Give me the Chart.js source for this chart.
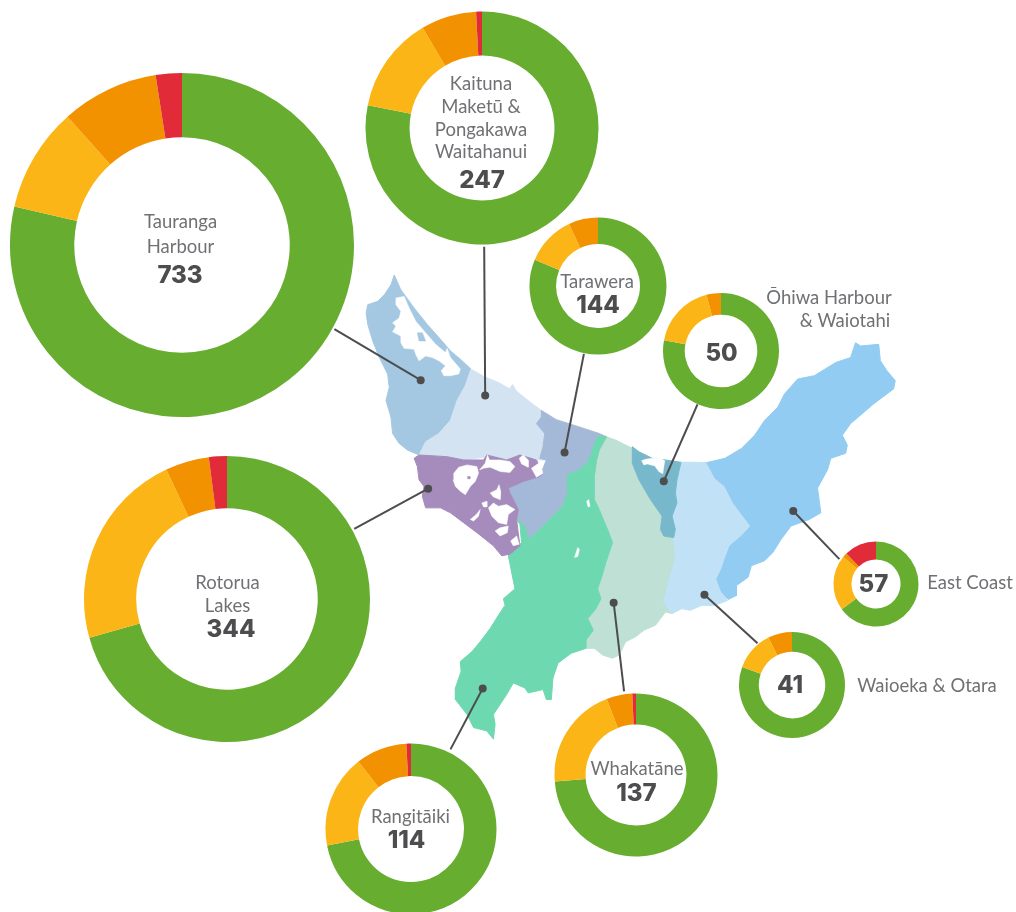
<!DOCTYPE html>
<html>
<head>
<meta charset="utf-8">
<script src="https://cdn.jsdelivr.net/npm/chart.js@4"></script>
<style>
html,body{margin:0;padding:0;background:#fff;width:1016px;height:912px;overflow:hidden}
#stage{position:relative;width:1016px;height:912px;overflow:hidden}
canvas{position:absolute;display:block}
.t{position:absolute;transform:translate(-50%,-50%);white-space:nowrap;line-height:1}
.l{font-family:Lato,sans-serif;font-weight:400;font-size:18.5px;color:#707174}
.n{font-family:Inter,sans-serif;font-weight:800;font-size:24px;color:#4d4d4f}
</style>
</head>
<body>
<div id="stage"><canvas id="map" width="1016" height="912" style="left:0;top:0"></canvas></div>
<script>
// ---- data: sites in each catchment by rating ----
const catchments = ["Tauranga Harbour","Kaituna Maketū & Pongakawa Waitahanui","Tarawera","Ōhiwa Harbour & Waiotahi","Rotorua Lakes","Rangitāiki","Whakatāne","East Coast","Waioeka & Otara"];
const totals = [733,247,144,50,344,114,137,57,41];
const green  = [576,193,117,39,243,82,101,37,33];
const yellow = [72,33,17,9,77,20,28,12,5];
const orange = [67,19,10,2,17,11,7,1,3];
const red    = [18,2,0,0,7,1,1,7,0];
const ratingColors = ["#67ad2f","#fbb517","#f39200","#e12b38"];

// ---- layout of the rings ----
const ringX = [181.5,481.5,597.5,721,227,410.5,636,875.5,792];
const ringY = [245,128,285.5,350.5,599,828.5,774.5,584,684.5];
const ringOuter = [172,116.5,68.5,58,143,85.5,81.5,42.5,53];
const ringInner = [109,74,43.5,37.5,92,54.5,52,26,34.5];

// ---- map outlines, traced in three reading frames ----
const frame = (ox,oy) => pts => pts.map(p => ({x:ox+p[0]/3,y:oy+p[1]/3}));
const f1 = frame(350,260), f2 = frame(620,330), f3 = frame(440,500);

const eastOfRangitaiki = f3([[440,450],[440,425],[462,395],[445,360],[470,330],[485,300],[475,270],[490,225],[500,190],[520,130],[505,90],[490,55],[480,30],[465,0]]);
const topOfRangitaiki = f1([[735,650],[742,600],[750,570],[772,530]]);

const mapTauranga = f1([[130,40],[120,70],[100,100],[80,120],[50,130],[45,155],[50,190],[65,240],[85,290],[110,340],[115,380],[105,420],[120,470],[125,520],[145,550],[170,570],[205,585],[225,545],[265,520],[300,480],[320,420],[345,375],[362,325],[330,295],[300,270],[270,235],[230,190],[190,140],[150,85],[130,40]]);
const mapKaituna = f1([[362,325],[400,347],[450,368],[478,385],[488,372],[500,392],[545,428],[575,450],[575,470],[560,490],[585,520],[580,560],[570,595],[590,600],[560,600],[520,590],[470,600],[410,590],[340,600],[290,590],[205,585],[225,545],[265,520],[300,480],[320,420],[345,375],[362,325]]);
const mapTarawera = f1([[575,450],[620,478],[680,497],[750,520],[772,530],[745,530],[730,565],[720,600],[690,630],[655,645],[655,700],[640,740],[600,780],[560,820],[535,840],[525,800],[500,780],[505,750],[480,700],[475,685],[520,665],[570,650],[580,625],[590,600],[570,595],[580,560],[585,520],[560,490],[575,470],[575,450]]);
const mapRotorua = f1([[190,595],[205,585],[290,590],[340,600],[400,600],[410,585],[470,600],[510,585],[560,600],[580,640],[570,650],[520,665],[475,685],[480,700],[505,750],[500,780],[505,820],[510,860],[480,885],[455,890],[430,860],[380,820],[340,790],[300,760],[270,745],[225,745],[215,710],[220,680],[205,660],[200,620],[190,595]]);
const mapRangitaiki = [
  ...f1([[772,530],[745,530],[730,565],[720,600],[690,630],[655,645],[655,700],[640,740],[600,780],[560,820],[535,840],[525,800],[500,780]]),
  ...f3([[240,75],[245,130],[205,170],[225,270],[190,300],[195,320],[175,350],[150,390],[120,430],[95,460],[60,490],[62,520],[45,570],[45,605],[80,650],[100,690],[140,700],[160,725],[165,680],[160,650],[200,590],[220,555],[255,570],[265,585],[310,575],[320,605],[335,605],[340,540],[355,495],[395,465]]),
  ...eastOfRangitaiki, ...topOfRangitaiki];
const mapWhakatane = [
  ...f1([[772,530],[800,540],[850,565]]),
  ...f2([[40,350],[40,400],[60,450],[95,510],[130,560],[125,600],[165,625],[170,690],[150,760],[135,820],[160,855]]),
  ...f3([[680,340],[650,380],[615,395],[590,415],[560,430],[540,470],[520,480],[490,470],[465,450]]),
  ...eastOfRangitaiki, ...topOfRangitaiki];
const mapOhiwa = f2([[40,350],[60,365],[100,385],[140,390],[187,397],[175,450],[170,490],[175,520],[160,560],[170,600],[165,625],[135,620],[125,600],[130,560],[95,510],[60,450],[40,400],[40,350]]);
const mapWaioeka = f2([[187,397],[230,397],[265,398],[290,445],[320,470],[345,520],[375,560],[398,590],[370,620],[335,650],[320,690],[310,720],[295,750],[310,790],[328,815],[290,830],[250,830],[215,845],[190,840],[160,855],[135,820],[150,760],[170,690],[165,625],[170,600],[160,560],[175,520],[170,490],[175,450],[187,397]]);
const mapEastCoast = f2([[265,398],[320,385],[370,355],[410,315],[440,270],[480,230],[500,190],[540,145],[590,135],[655,95],[700,80],[715,35],[730,45],[785,40],[790,90],[810,120],[835,150],[830,175],[770,220],[700,280],[675,315],[690,345],[685,370],[640,385],[630,420],[600,475],[610,550],[575,570],[520,590],[490,630],[465,670],[440,695],[400,710],[390,745],[355,770],[355,800],[330,812],[310,790],[295,750],[310,720],[320,690],[335,650],[370,620],[398,590],[375,560],[345,520],[320,470],[290,445],[265,398]]);

const mapAreas = [
  [mapTauranga,"#a5c8e2"],[mapKaituna,"#d3e3f2"],[mapWhakatane,"#bfe0d4"],[mapTarawera,"#a4b9d7"],
  [mapRangitaiki,"#6ed8b1"],[mapRotorua,"#a58cbc"],[mapWaioeka,"#c1e1f6"],[mapEastCoast,"#92ccf2"],[mapOhiwa,"#78b8cc"]
];

// white water bodies
const water = [
  f1([[135,110],[160,105],[175,140],[195,180],[225,215],[255,250],[285,275],[290,262],[300,290],[330,325],[325,340],[300,345],[280,345],[272,330],[285,315],[265,300],[245,290],[225,285],[205,300],[195,280],[190,265],[160,262],[150,245],[150,225],[125,212],[135,195],[125,185],[145,170],[150,150],[135,130]]),
  f1([[310,640],[325,622],[350,615],[380,620],[385,640],[375,665],[360,680],[345,705],[330,695],[315,680],[308,660]]),
  f1([[388,630],[405,610],[412,585],[418,600],[450,600],[480,605],[495,620],[480,638],[450,635],[420,622],[400,625]]),
  f1([[508,595],[520,585],[535,600],[535,622],[515,612]]),
  f1([[545,625],[570,608],[580,640],[560,652]]),
  f1([[415,745],[430,730],[445,740],[470,735],[495,750],[475,765],[470,795],[445,790],[425,770]]),
  f1([[420,700],[440,690],[447,675],[452,695],[450,720],[430,712]]),
  f1([[360,780],[378,765],[390,750],[385,770],[370,785]]),
  f1([[395,730],[410,725],[410,742],[400,742]]),
  f1([[435,815],[450,805],[475,800],[472,820],[450,830]]),
  f1([[482,845],[500,830],[508,855],[490,860]]),
  f2([[68,392],[80,388],[100,385],[125,385],[138,392],[132,432],[120,425],[108,408],[85,402],[75,405]]),
  f3([[405,175],[415,145],[420,150],[415,172]]),
  f3([[442,5],[448,0],[452,20],[446,22]])
];
// islands inside the water
const harbourIsland = f1([[200,215],[215,215],[225,240],[205,240]]);
const lakeIsland = f1([[352,650],[359,650],[359,657],[352,657]]);

// leader lines: dot in the catchment, end at the ring
const leaders = [
  [[420,379.5],[333,328]],
  [[485,395],[484,245]],
  [[565,452.5],[584.5,353]],
  [[427.5,489],[353,529.5]],
  [[665,481.5],[699,404]],
  [[795.5,511.5],[842,560]],
  [[706,596],[759.5,645]],
  [[614.5,604],[625,693.5]],
  [[482.5,690.5],[450,752]]
];

// ---- texts ----
const ringTexts = [
  {lines:[["Tauranga",180.5,220.5],["Harbour",180.5,245.5]],num:[180,275]},
  {lines:[["Kaituna",481,83],["Maketū &",481,105.5],["Pongakawa",481,128.5],["Waitahanui",481,151]],num:[482,180]},
  {lines:[["Tarawera",597,280.5]],num:[598,304.5]},
  {lines:[["Ōhiwa Harbour",829,297],["& Waiotahi",845,320]],num:[721.5,352.5]},
  {lines:[["Rotorua",227.5,581.5],["Lakes",227.5,604.5]],num:[231,629]},
  {lines:[["Rangitāiki",410.5,815.5]],num:[406.5,840]},
  {lines:[["Whakatāne",637,768]],num:[636.5,792.5]},
  {lines:[["East Coast",970,581.5]],num:[873.5,583.5]},
  {lines:[["Waioeka & Otara",927,684.5]],num:[790,685]}
];

// ---- map chart ----
const toPts = a => a.map(p => ({x:p[0],y:p[1]}));
const mapSets = [];
mapAreas.forEach(a => mapSets.push({data:a[0],showLine:true,fill:'shape',backgroundColor:a[1],borderColor:a[1],borderWidth:1,pointRadius:0,tension:0}));
water.forEach(w => mapSets.push({data:[...w,w[0]],showLine:true,fill:'shape',backgroundColor:'#fff',borderColor:'#fff',borderWidth:0.5,pointRadius:0,tension:0}));
[[harbourIsland,"#a5c8e2"],[lakeIsland,"#a58cbc"]].forEach(a => mapSets.push({data:[...a[0],a[0][0]],showLine:true,fill:'shape',backgroundColor:a[1],borderColor:a[1],borderWidth:0.5,pointRadius:0,tension:0}));
leaders.forEach(l => mapSets.push({data:toPts(l),showLine:true,fill:false,borderColor:'#4d4d4f',borderWidth:2,backgroundColor:'#4d4d4f',pointBackgroundColor:'#4d4d4f',pointBorderWidth:0,pointRadius:[4,0],tension:0}));
mapSets.forEach((d,i) => d.order = mapSets.length - i);

new Chart(document.getElementById('map'),{
  type:'scatter',
  data:{datasets:mapSets},
  options:{
    responsive:false,animation:false,
    layout:{padding:0},
    plugins:{legend:{display:false},tooltip:{enabled:false}},
    scales:{
      x:{type:'linear',display:false,min:0,max:1016},
      y:{type:'linear',display:false,min:0,max:912,reverse:true}
    }
  }
});

// ---- ring charts ----
const stage = document.getElementById('stage');
catchments.forEach((name,i) => {
  const side = 2*Math.ceil(ringOuter[i])+4;
  const cv = document.createElement('canvas');
  cv.width = side; cv.height = side;
  cv.style.left = Math.round(ringX[i]-side/2)+'px';
  cv.style.top = Math.round(ringY[i]-side/2)+'px';
  stage.appendChild(cv);
  new Chart(cv,{
    type:'doughnut',
    data:{labels:["Green","Yellow","Orange","Red"],datasets:[{
      label:name,
      data:[green[i],yellow[i],orange[i],red[i]],
      backgroundColor:ratingColors,borderWidth:0
    }]},
    options:{
      responsive:false,animation:false,
      radius:ringOuter[i],cutout:ringInner[i],
      layout:{padding:0},
      plugins:{legend:{display:false},tooltip:{enabled:false}}
    }
  });
});

// ---- text ----
function addText(str,x,y,cls){
  const d=document.createElement('div');
  d.className='t '+cls; d.textContent=str;
  d.style.left=x+'px'; d.style.top=y+'px';
  stage.appendChild(d);
}
ringTexts.forEach((t,i) => {
  t.lines.forEach(l => addText(l[0],l[1],l[2],'l'));
  addText(String(totals[i]),t.num[0],t.num[1],'n');
});
</script>
</body>
</html>
